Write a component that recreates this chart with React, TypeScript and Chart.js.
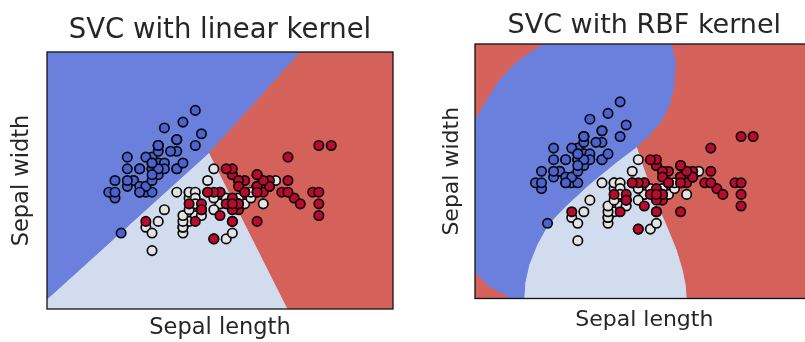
import React, { useEffect, useRef } from "react";
import { Chart, registerables } from "chart.js";

Chart.register(...registerables);

// Iris data: sepal length (x) and sepal width (y) per class
const setosaLength = [5.1, 4.9, 4.7, 4.6, 5.0, 5.4, 4.6, 5.0, 4.4, 4.9, 5.4, 4.8, 4.8, 4.3, 5.8, 5.7, 5.4, 5.1, 5.7, 5.1, 5.4, 5.1, 4.6, 5.1, 4.8, 5.0, 5.0, 5.2, 5.2, 4.7, 4.8, 5.4, 5.2, 5.5, 4.9, 5.0, 5.5, 4.9, 4.4, 5.1, 5.0, 4.5, 4.4, 5.0, 5.1, 4.8, 5.1, 4.6, 5.3, 5.0];
const setosaWidth = [3.5, 3.0, 3.2, 3.1, 3.6, 3.9, 3.4, 3.4, 2.9, 3.1, 3.7, 3.4, 3.0, 3.0, 4.0, 4.4, 3.9, 3.5, 3.8, 3.8, 3.4, 3.7, 3.6, 3.3, 3.4, 3.0, 3.4, 3.5, 3.4, 3.2, 3.1, 3.4, 4.1, 4.2, 3.1, 3.2, 3.5, 3.6, 3.0, 3.4, 3.5, 2.3, 3.2, 3.5, 3.8, 3.0, 3.8, 3.2, 3.7, 3.3];
const versicolorLength = [7.0, 6.4, 6.9, 5.5, 6.5, 5.7, 6.3, 4.9, 6.6, 5.2, 5.0, 5.9, 6.0, 6.1, 5.6, 6.7, 5.6, 5.8, 6.2, 5.6, 5.9, 6.1, 6.3, 6.1, 6.4, 6.6, 6.8, 6.7, 6.0, 5.7, 5.5, 5.5, 5.8, 6.0, 5.4, 6.0, 6.7, 6.3, 5.6, 5.5, 5.5, 6.1, 5.8, 5.0, 5.6, 5.7, 5.7, 6.2, 5.1, 5.7];
const versicolorWidth = [3.2, 3.2, 3.1, 2.3, 2.8, 2.8, 3.3, 2.4, 2.9, 2.7, 2.0, 3.0, 2.2, 2.9, 2.9, 3.1, 3.0, 2.7, 2.2, 2.5, 3.2, 2.8, 2.5, 2.8, 2.9, 3.0, 2.8, 3.0, 2.9, 2.6, 2.4, 2.4, 2.7, 2.7, 3.0, 3.4, 3.1, 2.3, 3.0, 2.5, 2.6, 3.0, 2.6, 2.3, 2.7, 3.0, 2.9, 2.9, 2.5, 2.8];
const virginicaLength = [6.3, 5.8, 7.1, 6.3, 6.5, 7.6, 4.9, 7.3, 6.7, 7.2, 6.5, 6.4, 6.8, 5.7, 5.8, 6.4, 6.5, 7.7, 7.7, 6.0, 6.9, 5.6, 7.7, 6.3, 6.7, 7.2, 6.2, 6.1, 6.4, 7.2, 7.4, 7.9, 6.4, 6.3, 6.1, 7.7, 6.3, 6.4, 6.0, 6.9, 6.7, 6.9, 5.8, 6.8, 6.7, 6.7, 6.3, 6.5, 6.2, 5.9];
const virginicaWidth = [3.3, 2.7, 3.0, 2.9, 3.0, 3.0, 2.5, 2.9, 2.5, 3.6, 3.2, 2.7, 3.0, 2.5, 2.8, 3.2, 3.0, 3.8, 2.6, 2.2, 3.2, 2.8, 2.8, 2.7, 3.3, 3.2, 2.8, 3.0, 2.8, 3.0, 2.8, 3.8, 2.8, 2.8, 2.6, 3.0, 3.4, 3.1, 3.0, 3.1, 3.1, 3.1, 2.7, 3.2, 3.3, 3.0, 2.5, 3.0, 3.4, 3.0];

// Axis ranges (data units)
const xLimits = [3.3, 8.9];
const yLimits = [1.0, 5.4];

// Decision regions (data units); the rest of each plot is the red class
type Pt = [number, number];
const linearBlueRegion: Pt[] = [[3.3, 5.4], [7.394, 5.4], [5.914, 3.671], [3.3, 1.171]];
const linearLightRegion: Pt[] = [[3.3, 1.171], [5.914, 3.671], [7.184, 1.0], [3.3, 1.0]];
const rbfBlueRegion: Pt[] = [
  [3.3, 4.069], [3.498, 4.432], [3.712, 4.778], [3.959, 5.054], [4.206, 5.244], [4.453, 5.4],
  [6.545, 5.4], [6.611, 5.089], [6.594, 4.691], [6.512, 4.345], [6.38, 4.069], [6.183, 3.827],
  [5.968, 3.619], [5.639, 3.36], [5.194, 2.98], [4.782, 2.582], [4.502, 2.271], [4.321, 1.925],
  [4.189, 1.579], [4.124, 1.268], [4.107, 1.0], [3.926, 1.0], [3.712, 1.112], [3.514, 1.233], [3.3, 1.458],
];
const rbfLightRegion: Pt[] = [
  [5.968, 3.619], [5.639, 3.36], [5.194, 2.98], [4.782, 2.582], [4.502, 2.271], [4.321, 1.925],
  [4.189, 1.579], [4.124, 1.268], [4.107, 1.0], [6.792, 1.0], [6.776, 1.233], [6.726, 1.493],
  [6.627, 1.839], [6.479, 2.219], [6.314, 2.617], [6.183, 2.962], [6.067, 3.308],
];

const REGION_RED = "#d5615b";
const REGION_BLUE = "#6b80dc";
const REGION_LIGHT = "#d2dcef";
const PT_BLUE = "#4a62d2";
const PT_LIGHT = "#e4e4e4";
const PT_RED = "#bc0a2d";
const TEXT = "#262626";
const FRAME = "#111111";
const FONT = "'DejaVu Sans', sans-serif";

function makeRegionPlugin(regions: { pts: Pt[]; color: string }[]) {
  return {
    id: "decisionRegions",
    beforeDraw(chart: any) {
      const { ctx, chartArea, scales } = chart;
      const sx = scales.x;
      const sy = scales.y;
      const w = chartArea.right - chartArea.left;
      const h = chartArea.bottom - chartArea.top;
      ctx.save();
      ctx.beginPath();
      ctx.rect(chartArea.left, chartArea.top, w, h);
      ctx.clip();
      ctx.fillStyle = REGION_RED;
      ctx.fillRect(chartArea.left, chartArea.top, w, h);
      for (const r of regions) {
        ctx.beginPath();
        r.pts.forEach(([x, y], i) => {
          const px = sx.getPixelForValue(x);
          const py = sy.getPixelForValue(y);
          if (i === 0) ctx.moveTo(px, py);
          else ctx.lineTo(px, py);
        });
        ctx.closePath();
        ctx.fillStyle = r.color;
        ctx.fill();
        ctx.strokeStyle = r.color;
        ctx.lineWidth = 1;
        ctx.stroke();
      }
      ctx.restore();
    },
    afterDatasetsDraw(chart: any) {
      const { ctx, chartArea } = chart;
      ctx.save();
      ctx.strokeStyle = FRAME;
      ctx.lineWidth = 1.3;
      ctx.strokeRect(chartArea.left, chartArea.top, chartArea.right - chartArea.left, chartArea.bottom - chartArea.top);
      ctx.restore();
    },
  };
}

const toPoints = (xs: number[], ys: number[]) => xs.map((x, i) => ({ x, y: ys[i] }));

interface PanelProps {
  left: number;
  width: number;
  title: string;
  titleSize: number;
  labelSize: number;
  padding: { left: number; right: number; top: number; bottom: number };
  titlePad: { top: number; bottom: number };
  xTitlePad: { top: number; bottom: number };
  yTitlePad: { top: number; bottom: number };
  blue: Pt[];
  light: Pt[];
}

function Panel(p: PanelProps) {
  const ref = useRef<HTMLCanvasElement | null>(null);
  useEffect(() => {
    if (!ref.current) return;
    const common = { pointRadius: 4.7, pointHoverRadius: 4.7, borderWidth: 1.7, borderColor: "#0b0b0b", showLine: false };
    const hidden = {
      grid: { display: false, drawTicks: false },
      ticks: { display: false },
      border: { display: false },
    };
    const chart = new Chart(ref.current, {
      type: "scatter",
      data: {
        datasets: [
          { label: "setosa", data: toPoints(setosaLength, setosaWidth), backgroundColor: PT_BLUE, order: 3, ...common },
          { label: "versicolor", data: toPoints(versicolorLength, versicolorWidth), backgroundColor: PT_LIGHT, order: 2, ...common },
          { label: "virginica", data: toPoints(virginicaLength, virginicaWidth), backgroundColor: PT_RED, order: 1, ...common },
        ],
      },
      options: {
        responsive: false,
        animation: false,
        events: [],
        layout: { padding: p.padding },
        plugins: {
          legend: { display: false },
          tooltip: { enabled: false },
          title: {
            display: true,
            text: p.title,
            fullSize: false,
            color: TEXT,
            font: { family: FONT, size: p.titleSize, weight: "normal", lineHeight: 1.2 },
            padding: p.titlePad,
          },
        },
        scales: {
          x: {
            type: "linear",
            position: "bottom",
            min: xLimits[0],
            max: xLimits[1],
            ...hidden,
            title: {
              display: true,
              text: "Sepal length",
              color: TEXT,
              font: { family: FONT, size: p.labelSize, weight: "normal", lineHeight: 1.2 },
              padding: p.xTitlePad,
            },
          },
          y: {
            type: "linear",
            position: "left",
            min: yLimits[0],
            max: yLimits[1],
            ...hidden,
            title: {
              display: true,
              text: "Sepal width",
              color: TEXT,
              font: { family: FONT, size: p.labelSize, weight: "normal", lineHeight: 1.2 },
              padding: p.yTitlePad,
            },
          },
        },
      } as any,
      plugins: [makeRegionPlugin([{ pts: p.light, color: REGION_LIGHT }, { pts: p.blue, color: REGION_BLUE }])],
    });
    return () => chart.destroy();
  }, []);
  return (
    <canvas
      ref={ref}
      width={p.width}
      height={342}
      style={{ position: "absolute", left: p.left, top: 0, width: p.width, height: 342, display: "block" }}
    />
  );
}

export default function App() {
  return (
    <div style={{ position: "absolute", left: 0, top: 0, width: 805, height: 342, overflow: "hidden", background: "#ffffff" }}>
      <Panel
        left={0}
        width={410}
        title="SVC with linear kernel"
        titleSize={27.5}
        labelSize={22.5}
        padding={{ left: 4.5, right: 17, top: 0, bottom: 0 }}
        titlePad={{ top: 14.5, bottom: 4.5 }}
        xTitlePad={{ top: 6, bottom: 0 }}
        yTitlePad={{ top: 4, bottom: 11.5 }}
        blue={linearBlueRegion}
        light={linearLightRegion}
      />
      <Panel
        left={420}
        width={400}
        title="SVC with RBF kernel"
        titleSize={27}
        labelSize={22}
        padding={{ left: 14.8, right: 5, top: 0, bottom: 8.3 }}
        titlePad={{ top: 9.3, bottom: 2.3 }}
        xTitlePad={{ top: 8.8, bottom: 0 }}
        yTitlePad={{ top: 4, bottom: 9.8 }}
        blue={rbfBlueRegion}
        light={rbfLightRegion}
      />
    </div>
  );
}
